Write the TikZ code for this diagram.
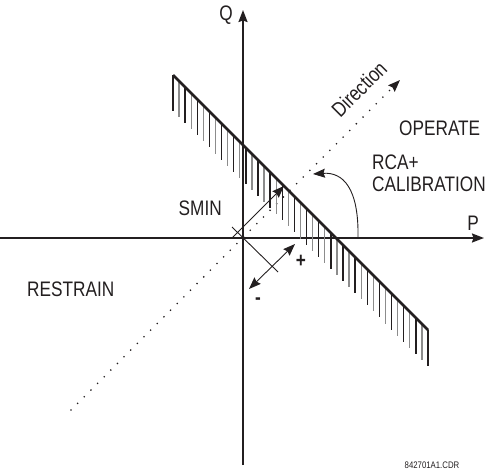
\documentclass[tikz,border=0pt]{standalone}
\usepackage{fontspec}
\setmainfont[FakeStretch=0.82]{Liberation Sans}
\usetikzlibrary{arrows.meta,calc,positioning}
\definecolor{ink}{HTML}{231F20}

\tikzset{
  axis/.style={ink,line width=1.8pt,->},
  thinline/.style={ink,line width=0.9pt},
  dotline/.style={ink,line width=1.8pt,line cap=round,dash pattern=on 0pt off 9.4pt},
  hatch/.style={line width=1.3pt},
  lbl/.style={ink,font=\fontsize{21}{22}\selectfont,inner sep=0pt},
}

\begin{document}
\begin{tikzpicture}[x=1pt,y=1pt,>={Stealth[length=12pt,width=9pt,inset=1.5pt]}]
		\useasboundingbox (-243,-234) rectangle (249,238);
		\coordinate (O) at (0,0);
		
		% axes
		\draw[axis] (-243,0) -- (241,0) coordinate (Pend);
		\draw[axis] (0,-227) -- (0,228) coordinate (Qend);
		\node[lbl] (P) at (230,15) {P};
		\node[lbl] (Q) at (-17,223) {Q};
		
		% direction of the element
		\coordinate (D0) at (-172,-172);
		\coordinate (D1) at (157,158);
		\draw[dotline,->] (D0) -- (D1);
		\node[lbl,rotate=45] (dir) at (116,149) {Direction};
		
		% restraint boundary with hatching
		\coordinate (R1) at (-70,163);
		\coordinate (R2) at (185,-92);
		\foreach \i in {0,2,...,42}
			\draw[hatch,ink] ($(R1)!\i/42!(R2)$) -- ++(0,-36);
		\foreach \i in {1,3,...,41}
			\draw[hatch,black!45] ($(R1)!\i/42!(R2)$) -- ++(0,-36);
		\draw[ink,line width=2.6pt] (R1) -- (R2);
		
		% minimum pickup
		\coordinate (S0) at (-11,0);
		\coordinate (S1) at (41,52);
		\draw[thinline,->] (S0) -- (S1);
		\coordinate (T0) at (-11,11);
		\coordinate (T1) at (35,-34);
		\draw[thinline] (T0) -- (T1);
		\coordinate (M0) at (6,-51);
		\coordinate (M1) at (52,-6);
		\draw[thinline,<->] (M0) -- (M1);
		\node[lbl,font=\fontsize{21}{22}\bfseries] (plus) at (58,-23) {+};
		\node[lbl,font=\fontsize{21}{22}\bfseries] (minus) at (15,-63) {-};
		\node[lbl,anchor=east] (smin) at (-21,30) {SMIN};
		
		% characteristic angle
		\coordinate (A0) at (115,0);
		\coordinate (A1) at (70,64);
		\draw[thinline,->] (A0) .. controls (116,50) and (100,66) .. (A1);
		
		\node[lbl,anchor=west] (op) at (156,110) {OPERATE};
		\node[lbl,anchor=west,align=left] (rca) at (129,65) {RCA+\\CALIBRATION};
		\node[lbl,anchor=west] (rst) at (-216,-51) {RESTRAIN};
		\node[ink,font=\fontsize{9.5}{11}\selectfont] (cdr) at (189,-227) {842701A1.CDR};
	\end{tikzpicture}
\end{document}
